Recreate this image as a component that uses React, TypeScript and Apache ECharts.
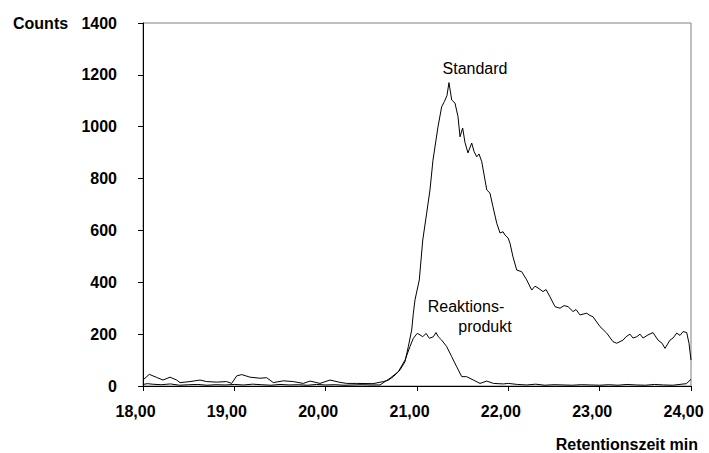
import React, { useEffect, useRef } from "react";
import * as echarts from "echarts";

// Retention time (min) and counts
const stdTime = [
  18.0, 18.069, 18.15, 18.219, 18.296, 18.369, 18.405, 18.515, 18.624, 18.697, 18.807, 18.916, 18.971,
  19.026, 19.081, 19.172, 19.281, 19.354, 19.427, 19.536, 19.646, 19.755, 19.829, 19.938, 20.047, 20.157,
  20.23, 20.34, 20.518, 20.631, 20.683, 20.741, 20.814, 20.869, 20.905, 20.942, 20.96, 20.978, 21.025,
  21.063, 21.106, 21.142, 21.175, 21.23, 21.27, 21.3, 21.328, 21.35, 21.38, 21.416, 21.449, 21.471, 21.5,
  21.525, 21.558, 21.599, 21.624, 21.654, 21.679, 21.709, 21.745, 21.764, 21.799, 21.832, 21.873, 21.909,
  21.942, 21.964, 21.997, 22.018, 22.051, 22.092, 22.146, 22.201, 22.256, 22.292, 22.325, 22.38, 22.413,
  22.456, 22.511, 22.566, 22.61, 22.654, 22.709, 22.741, 22.785, 22.858, 22.894, 22.927, 23.004, 23.077,
  23.146, 23.187, 23.256, 23.289, 23.332, 23.365, 23.406, 23.442, 23.475, 23.529, 23.584, 23.639, 23.683,
  23.715, 23.77, 23.803, 23.844, 23.88, 23.913, 23.953, 23.978, 24.0,
];
const stdCounts = [
  23, 45, 33, 23, 34, 23, 13, 17, 23, 17, 15, 17, 10,
  39, 44, 34, 30, 32, 13, 20, 17, 10, 19, 10, 23, 14,
  10, 10, 9, 17, 22, 36, 62, 94, 152, 216, 281, 332, 409,
  563, 667, 756, 871, 1000, 1077, 1097, 1120, 1170, 1103, 1091, 1039, 961, 995,
  940, 899, 937, 905, 884, 895, 865, 794, 756, 744, 691, 628, 590,
  595, 582, 571, 551, 498, 447, 441, 409, 370, 385, 378, 364, 372,
  344, 306, 300, 310, 306, 287, 295, 274, 281, 272, 267, 229, 204,
  171, 165, 177, 190, 200, 185, 190, 200, 185, 197, 206, 177, 165,
  145, 177, 185, 204, 195, 210, 206, 165, 100,
];

const prodTime = [
  18.0, 18.05, 18.1, 18.2, 18.3, 18.4, 18.5, 18.6, 18.7, 18.8, 18.9, 19.0, 19.1, 19.2, 19.3, 19.4,
  19.5, 19.6, 19.7, 19.8, 19.9, 20.0, 20.1, 20.2, 20.3, 20.4, 20.5, 20.595, 20.705, 20.795, 20.869,
  20.923, 20.96, 21.003, 21.033, 21.063, 21.099, 21.135, 21.179, 21.208, 21.233, 21.27, 21.325, 21.38,
  21.435, 21.49, 21.544, 21.617, 21.69, 21.764, 21.836, 21.945, 22.0, 22.1, 22.2, 22.3, 22.4, 22.5,
  22.6, 22.7, 22.8, 22.9, 23.0, 23.1, 23.2, 23.3, 23.4, 23.5, 23.6, 23.7, 23.8, 23.9, 23.95, 24.0,
];
const prodCounts = [
  6, 9, 7, 5, 8, 3, 5, 6, 3, 5, 4, 6, 4, 7, 5, 3,
  6, 4, 5, 3, 6, 4, 5, 3, 4, 5, 4, 4, 30, 55, 100,
  152, 184, 203, 197, 190, 203, 184, 190, 206, 190, 177, 152, 113,
  74, 36, 36, 23, 10, 19, 10, 8, 10, 6, 4, 7, 3, 5,
  4, 3, 5, 4, 3, 5, 3, 6, 4, 3, 6, 4, 3, 7, 9, 26,
];

const yTicks = [0, 200, 400, 600, 800, 1000, 1200, 1400];
const xTicks = [18, 19, 20, 21, 22, 23, 24];

const FONT = "'Liberation Sans', Arial, sans-serif";

export default function App() {
  const ref = useRef<HTMLDivElement>(null);
  useEffect(() => {
    document.body.style.margin = "0";
    const chart = echarts.init(ref.current!, undefined, { renderer: "svg" });
    const pair = (t: number[], v: number[]) => t.map((x, i) => [x, v[i]]);
    chart.setOption({
      animation: false,
      backgroundColor: "#ffffff",
      grid: {
        left: 143,
        right: 18,
        top: 23,
        bottom: 67,
        show: true,
        borderColor: "#808080",
        borderWidth: 1,
        containLabel: false,
        outerBoundsMode: "none",
      },
      xAxis: {
        type: "value",
        min: xTicks[0],
        max: xTicks[xTicks.length - 1],
        interval: 1,
        splitLine: { show: false },
        axisLine: { show: true, onZero: false, lineStyle: { color: "#000", width: 1 } },
        axisTick: { show: true, length: 5, inside: false, lineStyle: { color: "#000" } },
        axisLabel: {
          margin: 17,
          color: "#000",
          fontFamily: FONT,
          fontWeight: "bold",
          fontSize: 16,
          padding: [0, 15, 0, 0],
          formatter: (v: number) => v.toFixed(2).replace(".", ","),
        },
      },
      yAxis: {
        type: "value",
        min: yTicks[0],
        max: yTicks[yTicks.length - 1],
        interval: 200,
        splitLine: { show: false },
        axisLine: { show: true, onZero: false, lineStyle: { color: "#000", width: 1 } },
        axisTick: { show: true, length: 5, inside: false, lineStyle: { color: "#000" } },
        axisLabel: {
          margin: 26,
          color: "#000",
          fontFamily: FONT,
          fontWeight: "bold",
          fontSize: 16,
          formatter: (v: number) => String(v),
        },
      },
      series: [
        {
          name: "Standard",
          type: "line",
          data: pair(stdTime, stdCounts),
          showSymbol: false,
          symbol: "none",
          lineStyle: { color: "#000", width: 1 },
          clip: true,
        },
        {
          name: "Reaktionsprodukt",
          type: "line",
          data: pair(prodTime, prodCounts),
          showSymbol: false,
          symbol: "none",
          lineStyle: { color: "#000", width: 1 },
          clip: true,
        },
      ],
      graphic: [
        {
          type: "text",
          left: 13,
          top: 15,
          style: { text: "Counts", fill: "#000", font: `bold 16px ${FONT}` },
        },
        {
          type: "text",
          right: 11,
          top: 436,
          style: { text: "Retentionszeit min", fill: "#000", font: `bold 16px ${FONT}` },
        },
        {
          type: "text",
          x: 475,
          y: 68,
          style: {
            text: "Standard",
            fill: "#000",
            font: `16px ${FONT}`,
            align: "center",
            verticalAlign: "middle",
          },
        },
        {
          type: "text",
          x: 466,
          y: 306,
          style: {
            text: "Reaktions-",
            fill: "#000",
            font: `16px ${FONT}`,
            align: "center",
            verticalAlign: "middle",
          },
        },
        {
          type: "text",
          x: 485,
          y: 326,
          style: {
            text: "produkt",
            fill: "#000",
            font: `16px ${FONT}`,
            align: "center",
            verticalAlign: "middle",
          },
        },
      ],
    });
    return () => chart.dispose();
  }, []);
  return (
    <div
      ref={ref}
      style={{ position: "absolute", left: 0, top: 0, width: 709, height: 453 }}
    />
  );
}
